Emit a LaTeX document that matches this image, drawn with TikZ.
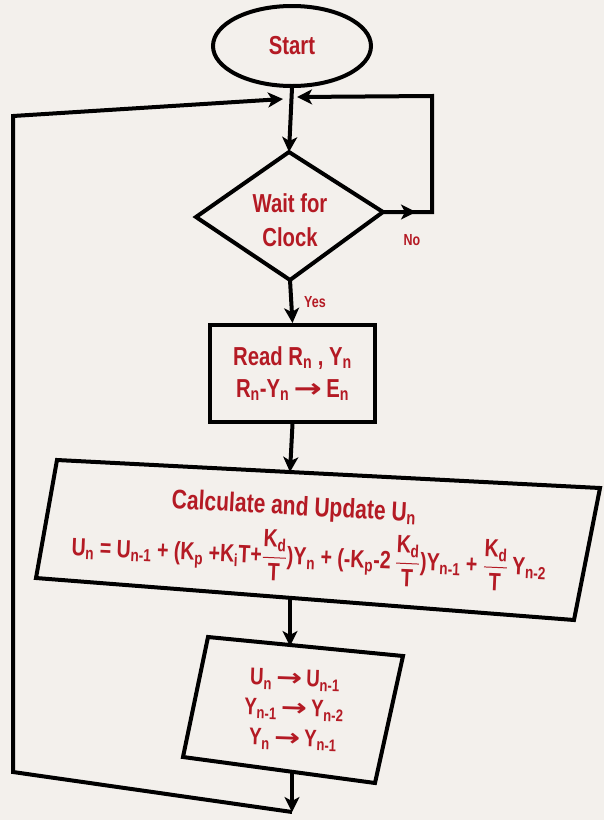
\documentclass[tikz,border=0pt]{standalone}
\usepackage{amsmath}
\usepackage{graphicx}
\usepackage{fontspec}
\setmainfont{Liberation Sans}[FakeStretch=0.78]
\newfontfamily\arrfont{DejaVu Sans}
\usetikzlibrary{shapes.geometric,arrows.meta}
\definecolor{bgc}{RGB}{243,240,236}
\definecolor{txt}{RGB}{180,26,36}
\newcommand\sbs[1]{\textsubscript{#1}}
\newcommand\rarr{\,{\arrfont\bfseries\scalebox{1.3}[1]{→}}\,}
\newcommand\frc[2]{\ensuremath{\dfrac{\text{#1}}{\text{#2}}}}
\tikzset{
  lw/.style={line width=4pt},
  arr/.style={lw,-{Stealth[length=15pt,width=15pt,inset=4pt]}},
  shp/.style={lw,draw=black},
  lbl/.style={text=txt,align=center,inner sep=0pt},
  fA/.style={font=\fontsize{26}{34}\selectfont\bfseries},
  fB/.style={font=\fontsize{26}{32}\selectfont\bfseries},
  fT/.style={font=\fontsize{27}{32}\selectfont\bfseries},
  fC/.style={font=\fontsize{25}{30}\selectfont\bfseries},
  fD/.style={font=\fontsize{24}{30}\selectfont\bfseries},
  fS/.style={font=\fontsize{16}{18}\selectfont\bfseries}
}
\begin{document}
\begin{tikzpicture}[x=1pt,y=-1pt]
\fill[bgc] (0,0) rectangle (604,820);
\useasboundingbox (0,0) rectangle (604,820);

% start
\node[shp,ellipse,minimum width=158pt,minimum height=80pt,lbl,fA] (start) at (292,46) {Start};

% decision
\coordinate (dT) at (289,152);
\coordinate (dL) at (196,217);
\coordinate (dR) at (383,212);
\coordinate (dB) at (290,280);
\draw[shp] (dT) -- (dR) -- (dB) -- (dL) -- cycle;
\node[lbl,fA] (dtext) at (290,220) {Wait for\\Clock};
\node[lbl,fS] (no) at (412,240) {No};
\node[lbl,fS] (yes) at (315,302) {Yes};

% read box
\node[shp,minimum width=165pt,minimum height=97pt,lbl,fB] (read) at (292.5,373.5)
  {Read R\sbs{n} , Y\sbs{n}\\R\sbs{n}-Y\sbs{n}\rarr E\sbs{n}};

% calculate box
\coordinate (c1) at (57,460);
\coordinate (c2) at (600,488);
\coordinate (c3) at (574,620);
\coordinate (c4) at (36,578);
\draw[shp] (c1) -- (c2) -- (c3) -- (c4) -- cycle;
\coordinate (cT) at (290,472);
\coordinate (cB) at (290,598);
\node[lbl,fT,rotate=-3] (ctitle) at (294,508) {Calculate and Update U\sbs{n}};
\node[lbl,fC,rotate=-2.5] (ceq) at (309,557)
  {U\sbs{n} = U\sbs{n-1} + (K\sbs{p} +K\sbs{i}T+\frc{K\sbs{d}}{T})Y\sbs{n} + (-K\sbs{p}-2\,\frc{K\sbs{d}}{T})Y\sbs{n-1} + \frc{K\sbs{d}}{T}\,Y\sbs{n-2}};

% final box
\coordinate (f1) at (208,637);
\coordinate (f2) at (403,656);
\coordinate (f3) at (375,783);
\coordinate (f4) at (183,757);
\draw[shp] (f1) -- (f2) -- (f3) -- (f4) -- cycle;
\coordinate (fT) at (290,646);
\coordinate (fB) at (292,772);
\node[lbl,fD,rotate=-2] (ftext) at (294,710)
  {U\sbs{n}\rarr U\sbs{n-1}\\Y\sbs{n-1}\rarr Y\sbs{n-2}\\Y\sbs{n}\rarr Y\sbs{n-1}};

% loop coordinates
\coordinate (mL) at (283,99);
\coordinate (mR) at (297,97);
\coordinate (noarr) at (416,212);
\coordinate (rc1) at (432,212);
\coordinate (rc2) at (432,96);
\coordinate (bend) at (292,812);
\coordinate (lb) at (13,772);
\coordinate (ltl) at (13,116);

% connectors
\draw[arr] (start.south) -- (dT);
\draw[arr] (dB) -- (read.north);
\draw[arr] (read.south) -- (cT);
\draw[arr] (cB) -- (fT);
\draw[arr] (fB) -- (bend);
\draw[arr] (bend) -- (lb) -- (ltl) -- (mL);
\draw[arr] (dR) -- (noarr);
\draw[arr] (dR) -- (rc1) -- (rc2) -- (mR);
\end{tikzpicture}
\end{document}
